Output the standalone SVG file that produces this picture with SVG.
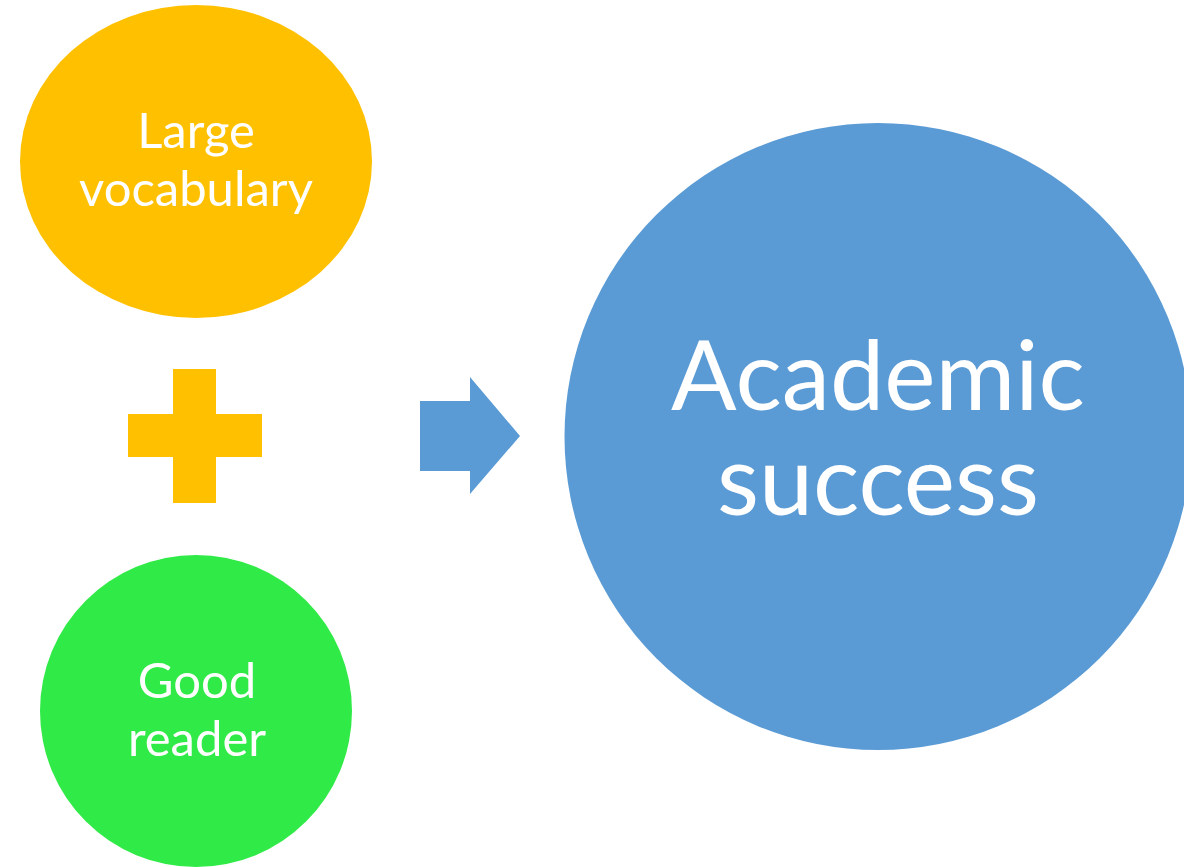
<svg xmlns="http://www.w3.org/2000/svg" width="1184" height="867" viewBox="0 0 1184 867">
  <style>
    .label { font-family: Lato, "Open Sans", "Liberation Sans", sans-serif; fill: #FFFFFF; text-anchor: middle; }
    .small { font-size: 49px; }
    .big { font-size: 97px; }
  </style>
  <rect width="1184" height="867" fill="#FFFFFF"/>

  <g id="node-vocabulary">
    <ellipse cx="196" cy="161.5" rx="176" ry="156.5" fill="#FFC000"/>
    <text class="label small" x="196" y="147.7">Large</text>
    <text class="label small" x="196" y="205.7">vocabulary</text>
  </g>

  <g id="node-plus">
    <path d="M173 369 H216 V414 H262 V457 H216 V503 H173 V457 H128 V414 H173 Z" fill="#FFC000"/>
  </g>

  <g id="node-reader">
    <circle cx="196" cy="711" r="156" fill="#30EA47"/>
    <text class="label small" x="197" y="698">Good</text>
    <text class="label small" x="197" y="756">reader</text>
  </g>

  <g id="connectors">
    <path d="M420 401 H470 V377 L520 436 L470 494 V471 H420 Z" fill="#5B9BD5"/>
  </g>

  <g id="node-success">
    <circle cx="878" cy="436.5" r="313.5" fill="#5B9BD5"/>
    <text class="label big" x="878" y="410">Academic</text>
    <text class="label big" x="878" y="515">success</text>
  </g>
</svg>
